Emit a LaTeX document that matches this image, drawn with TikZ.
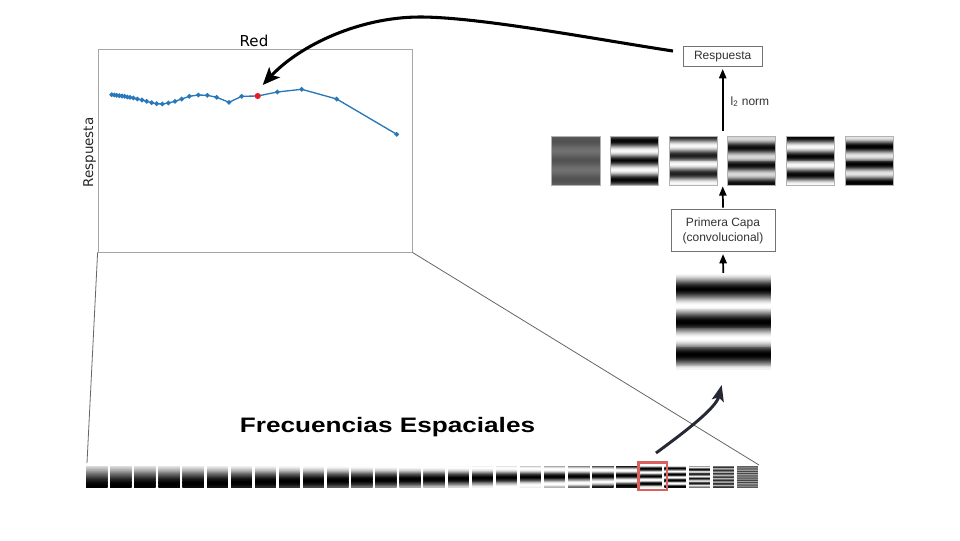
\documentclass[tikz,border=0pt]{standalone}
\usepackage{fontspec}
\setmainfont{Liberation Sans}
\newfontfamily\dejavu{DejaVu Sans}
\usetikzlibrary{arrows.meta}
\definecolor{plotblue}{RGB}{40,120,185}
\definecolor{hired}{RGB}{232,28,36}
\definecolor{boxred}{RGB}{218,95,95}
\definecolor{arrdark}{RGB}{38,40,52}
\def\gratN{60}
% x y w h f y0 mean amp
\newcommand\gratingtile[8]{%
  \begin{scope}
    \clip (#1,#2) rectangle ++(#3,#4);
    \foreach \jj in {1,...,\gratN} {
      \pgfmathsetmacro\gv{max(0,min(1,#7+0.5*#8*cos(360*#5*((\jj-0.5)/\gratN-(#6)))))}
      \definecolor{gtmp}{gray}{\gv}
      \fill[gtmp] ({#1},{#2+(\jj-1)*#4/\gratN}) rectangle ({#1+#3},{#2+\jj*#4/\gratN+0.5});
    }
  \end{scope}
}
\begin{document}
\begin{tikzpicture}[x=0.75pt,y=-0.75pt,
  lbl/.style={font=\fontsize{9}{11.25}\selectfont, text=black!80},
  flowbox/.style={draw=black!55, line width=0.6pt, fill=white, lbl, inner sep=0pt},
  smallarr/.style={-{Triangle[length=7pt,width=5.5pt]}, line width=1.3pt, black},
  bigarr/.style={-{Stealth[length=13pt,width=11pt,inset=3pt]}, line width=2.3pt, black},
  curvarr/.style={-{Stealth[length=12pt,width=9pt,inset=2.5pt]}, line width=2.2pt, arrdark},
  zoomline/.style={draw=black!60, line width=0.6pt},
  plotline/.style={plotblue, line width=1pt},
  tileframe/.style={draw=black!30, line width=0.5pt}]
\useasboundingbox (0,0) rectangle (960,540);
\fill[white] (0,0) rectangle (960,540);

% ---------- plot ----------
\node[draw=black!35, line width=0.6pt, minimum width=235.5pt, minimum height=152.25pt, inner sep=0pt] (plot) at (255,150.5) {};
\node[font=\dejavu\fontsize{11.3}{13}\selectfont, anchor=base] (title) at (254,46.5) {Red};
\node[font=\dejavu\fontsize{10.1}{12}\selectfont, rotate=90, text=black!85] (ylab) at (89.5,152.5) {Respuesta};
\draw[plotline] plot[mark=*, mark size=1.2pt, mark options={fill=plotblue, draw=none}] coordinates {
 (111.7,94.7) (114.3,95.0) (116.7,95.3) (119.3,95.7) (122,96) (124.7,96.3) (127.3,97) (130,97.3)
 (133.3,98) (137.3,99) (142,100) (146.7,101.3) (151.7,102.7) (156.7,103.7) (162.3,104) (168.3,103)
 (175,101.3) (181.7,99) (189.3,96.3) (198.3,95) (207.3,95.3) (216.7,97.3) (229,102.3) (241.7,96.3)
 (257.7,96) (277.3,92) (301.7,89.3) (336.7,99) (396.7,134.3)};
\node[circle, fill=hired, inner sep=0pt, minimum size=4.6pt] (hit) at (257.7,96) {};

% ---------- zoom lines ----------
\coordinate (stripL) at (87,463);
\coordinate (stripR) at (759,465);
\draw[zoomline] (plot.south west) -- (stripL);
\draw[zoomline] (plot.south east) -- (stripR);

% ---------- strip of stimuli ----------
\foreach \f [count=\k from 0] in {0.40,0.42,0.45,0.47,0.50,0.53,0.56,0.60,0.63,0.67,0.71,0.75,0.80,0.85,0.90,0.96,1.05,1.15,1.30,1.45,1.60,1.80,2.10,2.90,3.60,4.70,6.50,9.50} {
  \pgfmathsetmacro\yo{\k==23 ? 0.33 : 0.35-0.25/\f}
  \pgfmathsetmacro\am{\k==25 ? 0.85 : (\k==26 ? 0.55 : (\k==27 ? 0.35 : 1))}
  \pgfmathsetmacro\mn{\k>25 ? 0.45 : 0.5}
  \pgfmathsetmacro\xx{86+\k*24.1}
  \gratingtile{\xx}{465.5}{21.5}{21.5}{\f}{\yo}{\mn}{\am}
}
\node[draw=boxred, line width=1.7pt, minimum width=21.5pt, minimum height=20.8pt, inner sep=0pt] (sel) at (652.8,476.3) {};

\node[font=\bfseries\fontsize{15.7}{18}\selectfont] (freq) at (387.5,427.5) {\scalebox{1.25}[1]{Frecuencias Espaciales}};

% ---------- big stimulus ----------
\def\gratN{100}
\gratingtile{676}{274.3}{95}{95}{2.9}{0.33}{0.5}{1}
\coordinate (bigN) at (723.2,274.3);
\coordinate (bigS) at (723.2,369.3);

% ---------- filters ----------
\def\gratN{50}
\foreach \fx/\ff/\fy/\fm/\fa in {551.7/2.5/0.3/0.38/0.12, 610/2.5/0.3/0.5/0.95, 669/2.6/0.2/0.55/0.85, 727.3/2.7/0.42/0.45/0.8, 786/2.6/0.22/0.5/0.95, 845/2.7/0.03/0.45/0.9} {
  \gratingtile{\fx}{136}{48.5}{49}{\ff}{\fy}{\fm}{\fa}
  \draw[tileframe] (\fx,136) rectangle ++(48.5,49);
}
\coordinate (frowN) at (722.7,136);
\coordinate (frowS) at (722.7,185);

% ---------- boxes ----------
\node[flowbox, minimum width=59pt, minimum height=15pt, text height=6.6pt, text depth=1.9pt] (resp) at (722.7,56) {Respuesta};
\node[flowbox, align=center, minimum width=78pt, minimum height=31.8pt] (capa) at (723,230.5) {Primera Capa\\(convolucional)};
\node[lbl, anchor=west] (l2) at (726,101.5) {l\textsubscript{2} norm};

% ---------- arrows ----------
\draw[smallarr, shorten <=4pt, shorten >=2pt] (frowN) -- (resp.south);
\draw[smallarr, shorten <=1pt, shorten >=1pt] (capa.north) -- (frowS);
\draw[smallarr, shorten <=1pt, shorten >=1.5pt] (bigN) -- (capa.south);

\coordinate (astart) at (673,51);
\coordinate (apex) at (420,17);
\coordinate (atip) at (262.7,85);
\draw[bigarr] (astart) .. controls (600,40) and (480,17) .. (apex) .. controls (360,17) and (300,45) .. (atip);

\coordinate (ctail) at (656,453);
\coordinate (chead) at (721.7,385);
\draw[curvarr] (ctail) .. controls (686,431) and (716,408) .. (chead);
\end{tikzpicture}
\end{document}
